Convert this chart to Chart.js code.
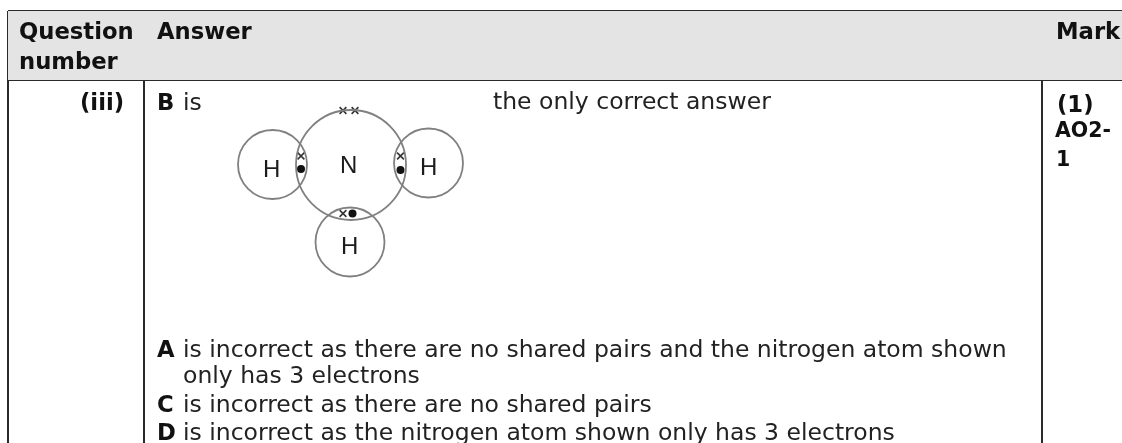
<!DOCTYPE html>
<html lang="en">
<head>
    <meta charset="UTF-8">
    <title>Question iii mark scheme</title>
    <script src="https://cdn.jsdelivr.net/npm/chart.js"></script>
    <style>
        body { margin: 0; background: #fff; }
        /* the reference is a soft scan */
        canvas { display: block; filter: blur(0.45px); }
    </style>
</head>
<body>
    <canvas id="chart" width="1122" height="443"></canvas>

    <script>
        // Atom circles (x, y in page pixels)
        var nitrogenShell = [{ x: 351, y: 165 }];
        var hydrogenShells = [{ x: 272.5, y: 164.5 }, { x: 428.5, y: 163 }, { x: 350, y: 242 }];
        var crossElectrons = [{ x: 343, y: 110.5 }, { x: 355, y: 110.5 }, { x: 301, y: 156 }, { x: 400.5, y: 156 }, { x: 343, y: 213.5 }];
        var dotElectrons = [{ x: 301, y: 169 }, { x: 400.5, y: 170 }, { x: 352.5, y: 213.5 }];

        // Table rules
        var topRule = [{ x: 8, y: 11 }, { x: 1122, y: 11 }];
        var headerRule = [{ x: 8, y: 80 }, { x: 1122, y: 80 }];
        var leftRule = [{ x: 8, y: 11 }, { x: 8, y: 443 }];
        var questionRule = [{ x: 144, y: 11 }, { x: 144, y: 443 }];
        var markRule = [{ x: 1042, y: 11 }, { x: 1042, y: 443 }];

        // Text
        var headerTexts = [["Question", 19, 39], ["number", 19, 69], ["Answer", 157, 39], ["Mark", 1056, 39]];
        var numberTexts = [["(iii)", 80, 110], ["B", 157, 110], ["(1)", 1057, 112]];
        var smallBoldTexts = [["AO2-", 1055, 137], ["1", 1056, 166]];
        var optionLetters = [["A", 157, 357], ["C", 157, 412], ["D", 157, 440]];
        var answerTexts = [
            ["is", 183, 110],
            ["the only correct answer", 493, 109],
            ["is incorrect as there are no shared pairs and the nitrogen atom shown", 183, 357],
            ["only has 3 electrons", 183, 383],
            ["is incorrect as there are no shared pairs", 183, 412],
            ["is incorrect as the nitrogen atom shown only has 3 electrons", 183, 440]
        ];
        var atomLetters = [["H", 263, 177], ["N", 340, 173], ["H", 420, 175], ["H", 341, 254]];

        function lineSet(points, width) {
            return {
                data: points, showLine: true, pointRadius: 0,
                borderColor: '#2a2a2a', borderWidth: width || 2
            };
        }

        // Writes the text lists at their scale positions
        var textPlugin = {
            id: 'tableText',
            afterDatasetsDraw: function (chart) {
                var ctx = chart.ctx;
                function write(list, font, color) {
                    ctx.save();
                    ctx.font = font;
                    ctx.fillStyle = color;
                    ctx.textBaseline = 'alphabetic';
                    list.forEach(function (t) {
                        ctx.fillText(t[0], chart.scales.x.getPixelForValue(t[1]), chart.scales.y.getPixelForValue(t[2]));
                    });
                    ctx.restore();
                }
                write(headerTexts, 'bold 22.7px "DejaVu Sans"', '#111');
                write(numberTexts, 'bold 22.7px "DejaVu Sans"', '#111');
                write(smallBoldTexts, 'bold 20.5px "DejaVu Sans"', '#111');
                write(optionLetters, 'bold 22.7px "DejaVu Sans"', '#111');
                write(answerTexts, '23.5px "DejaVu Sans"', '#222');
                write(atomLetters, '24px "Liberation Sans"', '#1c1c1c');
            }
        };

        new Chart(document.getElementById('chart').getContext('2d'), {
            type: 'scatter',
            data: {
                datasets: [
                    // grey header band
                    {
                        data: headerRule, showLine: true, pointRadius: 0, borderWidth: 0,
                        fill: { value: 11 }, backgroundColor: '#e4e4e4'
                    },
                    lineSet(topRule), lineSet(headerRule), lineSet(leftRule), lineSet(questionRule), lineSet(markRule),
                    {
                        data: nitrogenShell, pointStyle: 'circle', pointRadius: 55,
                        backgroundColor: 'transparent', borderColor: '#808080', pointBorderWidth: 1.8
                    },
                    {
                        data: hydrogenShells, pointStyle: 'circle', pointRadius: 34.5,
                        backgroundColor: 'transparent', borderColor: '#808080', pointBorderWidth: 1.8
                    },
                    {
                        data: crossElectrons, pointStyle: 'crossRot', pointRadius: 4.8,
                        borderColor: '#333', pointBorderWidth: 1.6
                    },
                    {
                        data: dotElectrons, pointStyle: 'circle', pointRadius: 4,
                        backgroundColor: '#111', borderColor: '#111', pointBorderWidth: 0
                    }
                ]
            },
            options: {
                responsive: false,
                animation: false,
                layout: { padding: 0, autoPadding: false },
                plugins: { legend: { display: false }, tooltip: { enabled: false } },
                scales: {
                    x: { type: 'linear', min: 0, max: 1122, display: false },
                    y: { type: 'linear', min: 0, max: 443, reverse: true, display: false }
                }
            },
            plugins: [textPlugin]
        });
    </script>
</body>
</html>
